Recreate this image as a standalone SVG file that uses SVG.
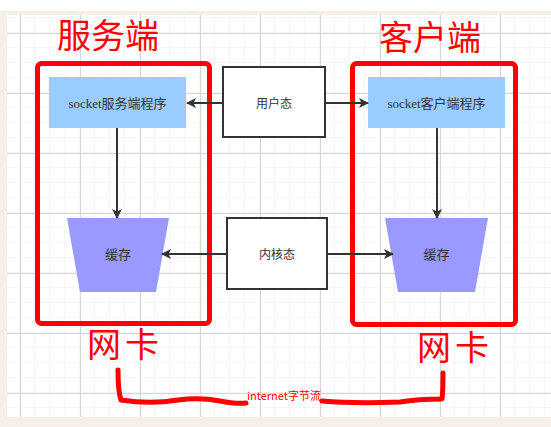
<svg xmlns="http://www.w3.org/2000/svg" width="551" height="427" viewBox="0 0 551 427">
<defs>
<pattern id="minor" x="5" y="3" width="15" height="15" patternUnits="userSpaceOnUse">
<path d="M15 0V15M0 15H15" fill="none" stroke="#ececec" stroke-width="1"/>
</pattern>
<pattern id="major" x="20" y="33" width="60" height="60" patternUnits="userSpaceOnUse">
<path d="M0.5 0V60M0 0.5H60" fill="none" stroke="#d6d6d6" stroke-width="1"/>
</pattern>
<marker id="arr" viewBox="0 0 10 10" refX="9" refY="5" markerWidth="10" markerHeight="10" markerUnits="userSpaceOnUse" orient="auto">
<path d="M0 0L10 5L0 10L2.5 5Z" fill="#333"/>
</marker>
<style>
.conn{fill:none;stroke:#333;stroke-width:2;marker-end:url(#arr)}
.state{fill:#fff;stroke:#333;stroke-width:2}
.prog{fill:#99ccff}
.buf{fill:#9999ff}
.frame{fill:none;stroke:#ff0000;stroke-width:5}
.lbl{font-family:"Liberation Serif","Noto Sans CJK SC",serif;font-size:13px;fill:#333;text-anchor:middle}
.big{font-family:"Noto Sans CJK SC",sans-serif;font-size:34px;fill:#ff0000;text-anchor:middle}
.hand{fill:none;stroke:#ff0000;stroke-width:5;stroke-linecap:round;stroke-linejoin:round}
</style>
</defs>
<rect width="551" height="427" fill="#fff"/>
<rect x="0" y="11" width="551" height="416" fill="#f6efe9"/>
<rect x="7" y="15" width="544" height="402" fill="#fff"/>
<rect x="7" y="15" width="544" height="402" fill="url(#minor)"/>
<rect x="7" y="15" width="544" height="402" fill="url(#major)"/>

<g id="server-frame">
<rect class="frame" x="37.5" y="63.5" width="172" height="260" rx="4"/>
<text class="big" x="108" y="48">服务端</text>
<text class="big" x="125" y="357" letter-spacing="4">网卡</text>
</g>
<g id="client-frame">
<rect class="frame" x="352.5" y="63.5" width="163" height="261" rx="4"/>
<text class="big" x="430" y="50">客户端</text>
<text class="big" x="455" y="360" letter-spacing="4">网卡</text>
</g>

<g id="server-prog"><rect class="prog" x="49" y="77" width="137" height="51"/><text class="lbl" x="117.5" y="107.5">socket服务端程序</text></g>
<g id="client-prog"><rect class="prog" x="368" y="77" width="137" height="51"/><text class="lbl" x="436.5" y="107.5">socket客户端程序</text></g>
<g id="user-mode"><rect class="state" x="223" y="67" width="102" height="70"/><text class="lbl" x="274" y="107.5" style="font-family:'Noto Sans CJK SC',sans-serif;font-size:12px">用户态</text></g>
<g id="kernel-mode"><rect class="state" x="227" y="218" width="100" height="71"/><text class="lbl" x="277" y="258.5" style="font-family:'Noto Sans CJK SC',sans-serif;font-size:12px">内核态</text></g>
<g id="server-buf"><path class="buf" d="M67 218H169L156 292H80Z"/><text class="lbl" x="118" y="258.5">缓存</text></g>
<g id="client-buf"><path class="buf" d="M385 218H488L475 292H398Z"/><text class="lbl" x="436.5" y="258.5">缓存</text></g>

<g id="connectors">
<path class="conn" d="M117 128V218"/>
<path class="conn" d="M437 128V218"/>
<path class="conn" d="M223 103H187"/>
<path class="conn" d="M325 103H368"/>
<path class="conn" d="M227 254H162"/>
<path class="conn" d="M327 254H393"/>
</g>

<g id="internet">
<path class="hand" d="M118 370C118 380 118 392 121 400C140 403 160 403 178 400C192 398 205 398 220 401C230 403 238 404 246 403"/>
<path class="hand" d="M322 401C345 403 375 403 400 402C412 400 425 399 442 399C443 392 443 382 443 373"/>
<text x="284" y="400" style="font-family:'Noto Sans CJK SC',sans-serif;font-size:11px;fill:#ff0000;text-anchor:middle">internet字节流</text>
</g>
</svg>
